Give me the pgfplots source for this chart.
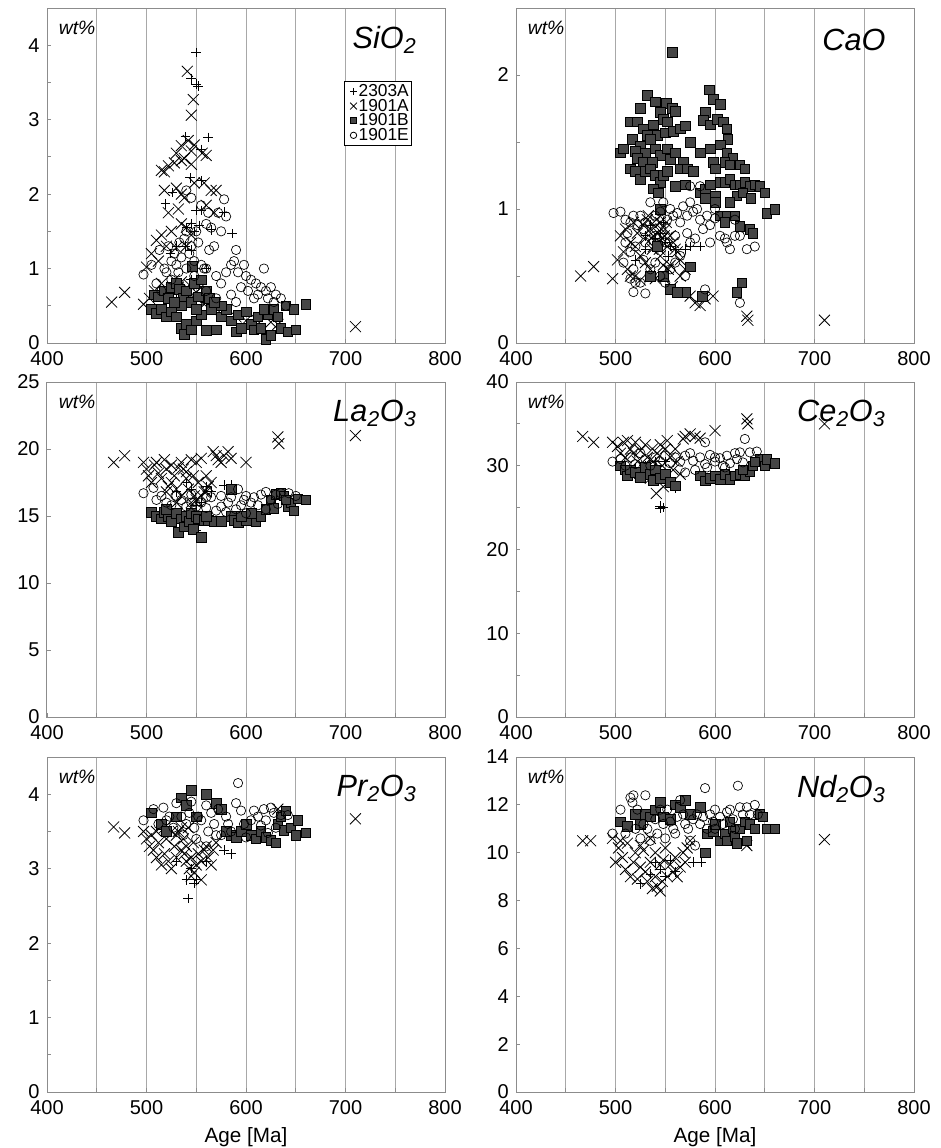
\documentclass[border=0pt]{standalone}
\usepackage{pgfplots}
\pgfplotsset{compat=1.18}
\usepackage{fontspec}
\setmainfont{Liberation Sans}

\definecolor{sqgray}{HTML}{454545}
\definecolor{gridgray}{HTML}{A8A8A8}
\definecolor{framegray}{HTML}{8C8C8C}

\pgfplotsset{
  panel/.style={
    scale only axis, width=298.5pt, height=251.25pt,
    xmin=400, xmax=800, ymin=0,
    xtick={400,500,...,800}, minor xtick={450,550,650,750},
    xmajorgrids, xminorgrids,
    major grid style={draw=gridgray, line width=0.75pt},
    minor grid style={draw=gridgray, line width=0.75pt},
    axis line style={draw=framegray, line width=0.75pt},
    tick pos=left, tick align=inside,
    tick style={draw=framegray, line width=0.6pt},
    major tick length=3pt, minor tick length=3pt,
    tick label style={font=\fontsize{15}{16}\selectfont},
    xticklabel style={yshift=-2.5pt},
    yticklabel style={xshift=-2pt},
    /pgf/number format/assume math mode=true,
    legend image code/.code={\path[draw=none,fill=none] (0,0) rectangle (0.3cm,0.01cm); \draw[##1] plot coordinates {(0.19cm,0cm)};},
  },
  sA/.style={only marks, mark=+, mark size=3.6pt, black, mark options={line width=0.6pt}},
  sB/.style={only marks, mark=x, mark size=5.8pt, black, mark options={line width=0.6pt}},
  sC/.style={only marks, mark=square*, mark size=3.6pt, mark options={fill=sqgray, draw=black, line width=0.4pt}},
  sD/.style={only marks, mark=o, mark size=3.5pt, mark options={fill=white, draw=black, line width=0.5pt}},
  agelabel/.style={xlabel={Age [Ma]}, xlabel style={font=\fontsize{15.5}{17}\selectfont, yshift=-3pt}},
}
\newcommand{\wt}{\node[anchor=west, font=\fontsize{14.5}{16}\selectfont\itshape] at (rel axis cs:0.018,0.94) {wt\%};}
\newcommand{\ttl}[1]{\node[anchor=east, font=\fontsize{23}{26}\selectfont\itshape] at (rel axis cs:0.94,0.905) {#1};}

\begin{document}
\begin{tikzpicture}
\useasboundingbox (0,0) rectangle (705pt,-861pt);

% ---------------- SiO2
\begin{axis}[panel, at={(35.25pt,-257.25pt)}, anchor=south west,
  ymax=4.5, ytick={0,1,2,3,4}, minor ytick={0.5,1.5,2.5,3.5},
  legend style={at={(rel axis cs:0.746,0.782)}, anchor=north west, draw=black, line width=0.6pt,
    font=\fontsize{13}{11}\selectfont, inner sep=1.5pt, row sep=-1pt,
    nodes={inner sep=0.7pt}},
  legend cell align=left]
\addlegendimage{only marks, mark=+, mark size=2.6pt, black}
\addlegendimage{only marks, mark=x, mark size=3.6pt, black}
\addlegendimage{only marks, mark=square*, mark size=2.4pt, mark options={fill=sqgray, draw=black}}
\addlegendimage{only marks, mark=o, mark size=2.4pt, black}
\legend{2303A,1901A,1901B,1901E}
\addplot[sA] coordinates {(550,3.9)(545,3.55)(550,3.48)(552,3.45)(539,2.77)(562,2.76)(555,2.6)(544,2.22)(555,2.18)
 (526,2.02)(519,1.87)(550,1.78)(555,1.78)(578,1.76)(545,1.6)(553,1.58)(540,1.55)(548,1.5)(586,1.47)(565,1.52)
 (539,1.3)(545,1.25)(530,1.3)(524,1.2)(560,1.0)(540,0.7)(555,0.6)(560,0.55)(530,0.65)(545,0.85)(535,0.75)(520,0.6)};
\addplot[sB] coordinates {(541,3.65)(547,3.27)(545,3.06)(535,2.65)(542,2.72)(548,2.66)(530,2.55)(545,2.58)(556,2.55)
 (560,2.52)(515,2.32)(518,2.3)(522,2.38)(528,2.42)(535,2.45)(538,2.48)(545,2.4)(518,2.05)(530,2.08)(535,2.0)
 (538,1.95)(548,2.15)(558,2.15)(565,2.05)(570,2.05)(522,1.75)(532,1.8)(560,1.85)(568,1.75)(510,1.38)(515,1.45)
 (525,1.5)(535,1.6)(540,1.55)(545,1.45)(500,1.02)(505,1.2)(512,1.1)(530,1.28)(520,1.3)(540,1.3)(465,0.55)
 (478,0.68)(497,0.52)(503,0.6)(508,0.7)(515,0.8)(520,0.65)(528,0.85)(532,0.75)(538,0.68)(542,0.6)(548,0.55)
 (552,0.58)(558,0.52)(565,0.5)(575,0.45)(590,0.35)(600,0.3)(610,0.32)(625,0.28)(632,0.25)(710,0.22)
 (525,0.72)(535,0.82)(543,0.78)(550,0.68)(555,0.75)(530,0.58)(512,0.62)};
\addplot[sC] coordinates {(505,0.45)(510,0.4)(515,0.45)(520,0.35)(525,0.42)(530,0.35)(535,0.2)(538,0.12)(540,0.25)
 (545,0.18)(550,0.3)(555,0.38)(560,0.17)(570,0.18)(575,0.35)(580,0.45)(585,0.3)(590,0.15)(592,0.38)(600,0.42)
 (605,0.25)(608,0.18)(612,0.35)(615,0.2)(620,0.05)(622,0.38)(625,0.1)(628,0.45)(632,0.35)(635,0.2)(640,0.5)
 (642,0.15)(648,0.45)(650,0.18)(660,0.52)(618,0.45)(595,0.2)(565,0.45)(575,0.5)(508,0.65)(512,0.62)(518,0.7)
 (522,0.6)(525,0.75)(530,0.8)(533,0.72)(537,0.6)(540,0.7)(545,0.55)(548,0.8)(552,0.62)(555,0.85)(560,0.7)
 (563,0.6)(568,0.55)(546,1.03)(535,0.5)(528,0.55)(550,0.45)};
\addplot[sD] coordinates {(497,0.92)(505,1.05)(510,0.8)(513,1.25)(518,1.0)(520,0.95)(522,1.3)(525,1.1)(528,1.2)
 (530,1.05)(533,1.35)(535,1.15)(538,1.4)(540,1.0)(540,1.5)(543,1.2)(545,1.3)(548,1.1)(550,1.5)(552,1.35)
 (555,1.05)(558,1.0)(560,1.6)(563,1.25)(565,1.55)(568,1.3)(570,0.9)(572,1.75)(575,1.5)(578,1.93)(580,1.7)
 (562,1.75)(555,1.85)(540,2.05)(545,1.95)(560,1.0)(575,0.8)(580,0.95)(585,1.05)(588,1.1)(590,1.25)(592,0.95)
 (595,0.75)(598,1.05)(600,0.9)(602,0.7)(605,0.85)(608,0.6)(610,0.8)(612,0.65)(615,0.75)(618,1.0)(620,0.7)
 (622,0.6)(625,0.75)(628,0.55)(630,0.65)(635,0.6)(640,0.5)(585,0.65)(590,0.55)(570,0.6)(560,0.7)(548,0.9)
 (532,0.95)(525,0.85)(515,0.7)};
\wt \ttl{SiO\textsubscript{2}}
\end{axis}

% ---------------- CaO
\begin{axis}[panel, at={(387pt,-257.25pt)}, anchor=south west,
  ymax=2.5, ytick={0,1,2}, minor ytick={0.5,1.5}]
\addplot[sA] coordinates {(520,0.62)(530,0.7)(545,0.82)(550,0.75)(555,0.72)(560,0.7)(570,0.7)(575,0.72)(585,0.72)
 (540,0.78)(535,0.88)(548,0.9)(553,0.65)(530,0.8)};
\addplot[sB] coordinates {(465,0.5)(478,0.57)(497,0.48)(502,0.62)(505,0.8)(508,0.68)(510,0.85)(512,0.55)(515,0.75)
 (518,0.9)(520,0.72)(522,0.82)(525,0.65)(528,0.88)(530,0.78)(532,0.92)(535,0.85)(537,0.7)(538,0.8)(540,0.87)
 (542,0.75)(543,0.82)(545,0.9)(547,0.78)(550,0.85)(552,0.72)(555,0.8)(558,0.75)(560,0.7)(562,0.68)(565,0.62)
 (530,0.6)(535,0.55)(548,0.58)(553,0.55)(555,0.58)(565,0.5)(570,0.55)(575,0.35)(580,0.3)(585,0.28)(590,0.33)
 (598,0.35)(632,0.2)(633,0.17)(710,0.17)(515,0.5)(520,0.5)(525,0.47)(540,0.48)(557,0.42)(545,0.65)
 (533,0.95)(538,0.72)(541,0.92)(544,0.7)(546,0.85)(549,0.8)(536,0.78)(551,0.9)};
\addplot[sC] coordinates {(557,2.17)(532,1.85)(540,1.8)(551,1.79)(557,1.75)(560,1.73)(525,1.75)(545,1.72)(548,1.67)
 (552,1.65)(538,1.63)(515,1.65)(522,1.65)(528,1.6)(532,1.55)(542,1.55)(550,1.57)(558,1.58)(565,1.6)(570,1.62)
 (517,1.52)(525,1.47)(530,1.42)(535,1.52)(540,1.45)(545,1.4)(505,1.42)(508,1.45)(520,1.43)(522,1.38)(528,1.35)
 (537,1.35)(552,1.45)(555,1.37)(560,1.42)(568,1.35)(575,1.5)(515,1.3)(520,1.28)(525,1.22)(530,1.28)(535,1.3)
 (540,1.25)(545,1.2)(548,1.25)(552,1.28)(565,1.3)(572,1.3)(578,1.28)(538,1.15)(543,1.12)(560,1.17)(570,1.18)
 (594,1.89)(598,1.82)(605,1.78)(590,1.72)(588,1.66)(595,1.63)(602,1.67)(608,1.65)(612,1.6)(613,1.52)(605,1.48)
 (595,1.45)(585,1.42)(612,1.42)(618,1.38)(610,1.35)(598,1.35)(600,1.3)(615,1.33)(625,1.33)(630,1.3)(585,1.12)
 (590,1.15)(595,1.18)(600,1.1)(605,1.2)(610,1.2)(615,1.22)(620,1.18)(625,1.18)(630,1.2)(635,1.17)(640,1.18)
 (645,1.17)(650,1.12)(622,1.1)(628,1.12)(636,1.08)(600,1.05)(590,1.08)(615,1.05)(652,0.97)(660,1.0)(605,0.95)
 (612,0.95)(620,0.95)(635,0.85)(638,0.82)(625,0.87)(610,0.9)(545,1.0)(542,0.72)(548,0.5)(535,0.5)(555,0.4)
 (570,0.38)(575,0.57)(587,0.35)(622,0.38)(627,0.45)(562,0.38)};
\addplot[sD] coordinates {(498,0.97)(505,0.98)(510,0.92)(515,0.9)(518,0.95)(522,0.88)(525,0.95)(528,0.85)(530,0.9)
 (535,1.05)(540,0.95)(545,0.98)(548,1.05)(552,0.92)(555,1.0)(558,0.95)(562,0.97)(565,0.9)(568,1.02)(572,0.95)
 (575,1.05)(578,0.98)(582,1.0)(585,0.92)(588,0.85)(592,0.95)(595,0.88)(600,0.93)(605,0.8)(610,0.78)(612,0.75)
 (615,0.7)(620,0.8)(625,0.8)(632,0.7)(640,0.72)(575,1.17)(585,1.17)(600,1.0)(620,0.92)(510,0.75)(515,0.68)
 (520,0.72)(512,0.82)(508,0.6)(518,0.55)(520,0.45)(515,0.48)(525,0.45)(518,0.38)(530,0.37)(535,0.55)(540,0.6)
 (545,0.5)(550,0.45)(555,0.55)(560,0.6)(565,0.65)(570,0.5)(575,0.75)(580,0.78)(590,0.4)(625,0.3)(595,0.75)
 (550,0.75)(560,0.8)(540,0.8)(530,0.75)(528,0.62)(572,0.82)};
\wt \ttl{CaO}
\end{axis}

% ---------------- La2O3
\begin{axis}[panel, at={(35.25pt,-537.75pt)}, anchor=south west,
  ymax=25, ytick={0,5,...,25}]
\addplot[sA] coordinates {(540,17.5)(545,17.0)(548,14.3)(545,14.0)(550,13.9)(550,15.8)(555,16.0)(560,17.2)(565,16.8)
 (530,16.8)(578,17.3)(585,17.3)};
\addplot[sB] coordinates {(467,19.0)(478,19.5)(497,19.0)(500,18.5)(502,18.0)(505,17.5)(508,18.8)(510,19.0)(512,18.2)
 (515,17.8)(518,19.2)(520,18.5)(522,17.2)(525,18.8)(528,18.0)(530,17.0)(532,18.6)(535,19.0)(537,18.5)(540,18.3)
 (540,17.8)(542,17.0)(545,19.2)(547,18.0)(548,16.5)(550,19.0)(552,17.5)(555,19.3)(558,16.8)(560,18.0)(562,17.2)
 (565,17.5)(567,19.8)(570,19.5)(572,19.2)(575,19.0)(578,19.5)(582,19.8)(585,19.3)(600,19.0)(632,20.9)(633,20.4)
 (710,21.0)(545,16.0)(535,16.5)(530,16.0)(525,17.5)(520,16.8)(550,16.2)(555,16.5)(560,16.8)};
\addplot[sC] coordinates {(505,15.3)(510,15.0)(515,14.8)(518,15.3)(522,15.0)(525,14.6)(530,15.2)(532,13.8)(535,14.8)
 (538,14.2)(540,15.0)(543,14.6)(545,15.2)(547,14.0)(550,15.0)(552,14.8)(555,13.4)(558,14.7)(562,14.7)(568,14.6)
 (575,14.6)(585,15.0)(588,14.7)(592,14.5)(600,14.7)(610,14.6)(615,15.0)(620,15.5)(625,16.2)(630,16.6)(635,16.7)
 (638,16.5)(642,15.7)(645,16.0)(648,15.4)(652,16.3)(660,16.2)(595,15.0)(605,15.2)(628,15.6)(640,16.2)(585,17.0)
 (520,15.5)(560,15.0)};
\addplot[sD] coordinates {(497,16.7)(507,17.1)(510,16.2)(515,16.5)(520,16.0)(525,15.8)(530,16.5)(535,16.2)(540,15.7)
 (545,16.0)(550,15.7)(555,16.0)(560,15.6)(565,16.4)(570,15.4)(575,15.7)(580,15.3)(585,16.4)(590,15.5)(592,17.0)
 (595,15.8)(598,16.2)(600,15.2)(605,16.0)(608,16.4)(612,15.8)(615,16.6)(620,15.5)(625,16.2)(630,16.6)(632,15.9)
 (635,16.7)(643,16.7)(650,16.5)(575,16.5)(582,16.0)(560,16.4)(545,16.6)(600,16.5)(620,16.8)};
\wt \ttl{La\textsubscript{2}O\textsubscript{3}}
\end{axis}

% ---------------- Ce2O3
\begin{axis}[panel, at={(387pt,-537.75pt)}, anchor=south west,
  ymax=40, ytick={0,10,...,40}, minor ytick={5,15,25,35}]
\addplot[sA] coordinates {(545,25.2)(548,25.0)(545,24.9)(560,27.3)(555,28.0)(540,30.5)(530,30.0)(550,30.5)(520,29.8)};
\addplot[sB] coordinates {(467,33.5)(478,32.8)(497,32.8)(502,32.3)(505,31.5)(508,32.8)(510,31.0)(512,33.0)(515,32.0)
 (518,31.5)(520,32.8)(522,30.5)(525,31.8)(528,30.0)(530,32.5)(532,31.0)(535,29.5)(537,32.0)(538,30.5)(540,29.0)
 (541,26.7)(542,31.5)(543,28.5)(545,32.5)(547,30.0)(548,27.5)(550,32.0)(552,33.0)(555,31.0)(558,29.5)(560,32.0)
 (562,30.5)(565,29.0)(568,33.2)(570,33.5)(575,33.8)(580,33.5)(585,33.3)(600,34.2)(632,35.6)(633,35.0)(710,35.0)
 (515,29.0)(525,28.8)(535,28.5)(550,28.8)};
\addplot[sC] coordinates {(505,30.0)(510,29.5)(512,28.8)(515,29.5)(520,29.2)(525,28.6)(530,29.8)(535,29.0)(538,28.3)
 (540,29.5)(545,28.5)(550,29.0)(555,28.0)(560,27.6)(585,28.8)(590,28.2)(595,28.5)(600,28.8)(605,28.4)(610,29.0)
 (615,28.4)(620,28.8)(625,29.0)(630,28.9)(635,29.3)(638,30.0)(645,30.8)(650,30.0)(652,30.8)(660,30.3)(640,30.5)
 (628,29.5)};
\addplot[sD] coordinates {(497,30.5)(505,30.8)(510,30.0)(515,31.0)(520,30.2)(525,31.5)(530,30.8)(535,30.0)(540,31.0)
 (545,30.5)(550,31.2)(555,30.3)(560,31.0)(565,30.5)(570,29.2)(575,31.5)(578,30.6)(580,29.5)(585,31.0)(590,32.8)
 (592,29.8)(595,31.3)(600,30.5)(605,30.9)(608,30.0)(612,31.2)(615,30.3)(620,31.5)(622,30.8)(625,31.6)(628,30.4)
 (630,33.2)(635,31.6)(642,31.7)(590,30.2)(600,31.0)(570,31.2)(610,29.8)};
\wt \ttl{Ce\textsubscript{2}O\textsubscript{3}}
\end{axis}

% ---------------- Pr2O3
\begin{axis}[panel, at={(35.25pt,-819pt)}, anchor=south west,
  ymax=4.5, ytick={0,1,2,3,4}, minor ytick={0.5,1.5,2.5,3.5}, agelabel]
\addplot[sA] coordinates {(542,2.6)(540,2.85)(548,2.8)(550,2.85)(585,3.2)(578,3.25)(560,3.1)(545,3.0)(530,3.1)};
\addplot[sB] coordinates {(467,3.56)(478,3.48)(497,3.5)(500,3.4)(503,3.3)(507,3.25)(510,3.15)(512,3.35)(515,3.05)
 (518,3.2)(520,3.4)(522,3.1)(525,3.0)(528,3.3)(530,3.15)(532,3.5)(535,3.55)(537,3.4)(538,3.2)(540,3.3)(542,3.55)
 (543,3.0)(545,2.9)(545,3.15)(547,3.35)(548,2.95)(550,3.05)(552,3.2)(555,3.1)(558,3.25)(560,3.3)(562,3.15)
 (565,3.05)(567,3.25)(570,3.35)(540,3.1)(535,3.25)(530,3.45)(525,3.5)(518,3.55)(510,3.5)(505,3.45)(632,3.8)
 (710,3.67)(555,2.85)};
\addplot[sC] coordinates {(505,3.75)(515,3.6)(520,3.5)(530,3.7)(535,3.95)(540,3.85)(545,4.05)(550,3.7)(560,4.0)(570,3.88)
 (575,3.8)(585,3.45)(590,3.42)(595,3.5)(600,3.6)(605,3.45)(610,3.4)(615,3.5)(620,3.42)(625,3.38)(630,3.35)(632,3.6)
 (635,3.7)(638,3.52)(640,3.78)(645,3.55)(650,3.45)(652,3.65)(660,3.48)(580,3.5)};
\addplot[sD] coordinates {(497,3.65)(507,3.8)(512,3.6)(517,3.82)(520,3.65)(523,3.7)(527,3.55)(530,3.88)(535,3.7)
 (537,3.45)(540,3.6)(543,3.75)(545,3.9)(548,3.55)(552,3.7)(555,3.65)(560,3.85)(562,3.5)(565,3.75)(568,3.6)
 (572,3.8)(575,3.45)(580,3.7)(582,3.6)(585,3.5)(590,3.88)(592,4.15)(595,3.78)(598,3.6)(600,3.42)(605,3.65)
 (608,3.78)(612,3.7)(615,3.58)(618,3.8)(620,3.65)(622,3.48)(625,3.82)(628,3.75)(630,3.55)(635,3.72)(642,3.72)
 (550,3.4)(560,3.3)(570,3.45)};
\wt \ttl{Pr\textsubscript{2}O\textsubscript{3}}
\end{axis}

% ---------------- Nd2O3
\begin{axis}[panel, at={(387pt,-819pt)}, anchor=south west,
  ymax=14, ytick={0,2,...,14}, agelabel]
\addplot[sA] coordinates {(525,8.7)(540,9.6)(545,9.3)(550,9.0)(555,9.7)(560,9.2)(578,9.6)(586,9.6)(535,9.1)};
\addplot[sB] coordinates {(467,10.5)(475,10.5)(497,10.6)(500,9.6)(503,10.2)(507,9.8)(510,9.3)(512,10.4)(515,9.0)
 (518,9.6)(520,10.0)(522,8.9)(525,9.4)(528,10.1)(530,9.2)(532,8.8)(535,9.6)(537,8.5)(540,10.0)(540,9.0)(542,8.6)
 (545,8.4)(545,9.5)(547,8.8)(548,9.7)(550,10.2)(552,9.0)(555,9.5)(558,9.2)(560,9.8)(562,9.0)(565,9.4)(568,10.0)
 (570,9.6)(572,10.2)(575,10.5)(630,10.4)(632,10.3)(710,10.55)(525,10.3)(535,10.6)(505,10.5)};
\addplot[sC] coordinates {(505,11.3)(512,11.1)(520,11.6)(525,11.2)(530,11.6)(535,11.5)(540,11.8)(545,12.1)(548,11.5)
 (555,11.4)(560,12.0)(565,11.9)(570,12.2)(575,11.6)(585,11.9)(590,10.0)(592,10.8)(598,10.9)(600,11.2)(605,10.5)
 (610,10.8)(612,10.5)(618,11.0)(620,10.7)(622,10.4)(625,11.0)(630,11.3)(632,10.5)(635,11.2)(640,11.0)(645,11.6)
 (648,11.5)(652,11.0)(660,11.0)(615,11.3)};
\addplot[sD] coordinates {(497,10.8)(505,11.8)(510,10.8)(515,12.3)(517,12.1)(518,12.4)(520,11.0)(522,11.8)(525,10.6)
 (528,11.2)(530,12.4)(532,11.0)(535,10.5)(540,11.4)(542,10.8)(545,11.8)(548,11.2)(550,10.6)(552,11.8)(555,11.3)
 (558,11.0)(562,11.5)(565,12.2)(568,11.6)(570,11.2)(573,11.0)(575,10.5)(578,11.4)(580,10.3)(582,11.6)(585,11.2)
 (588,11.5)(590,12.7)(592,11.0)(595,11.6)(598,11.3)(600,11.8)(605,11.5)(608,11.2)(612,11.7)(615,11.8)(618,11.4)
 (620,11.0)(623,12.8)(625,11.9)(628,11.6)(632,11.9)(635,11.6)(640,12.0)(643,11.6)(560,10.8)(600,11.0)};
\wt \ttl{Nd\textsubscript{2}O\textsubscript{3}}
\end{axis}
\end{tikzpicture}
\end{document}
